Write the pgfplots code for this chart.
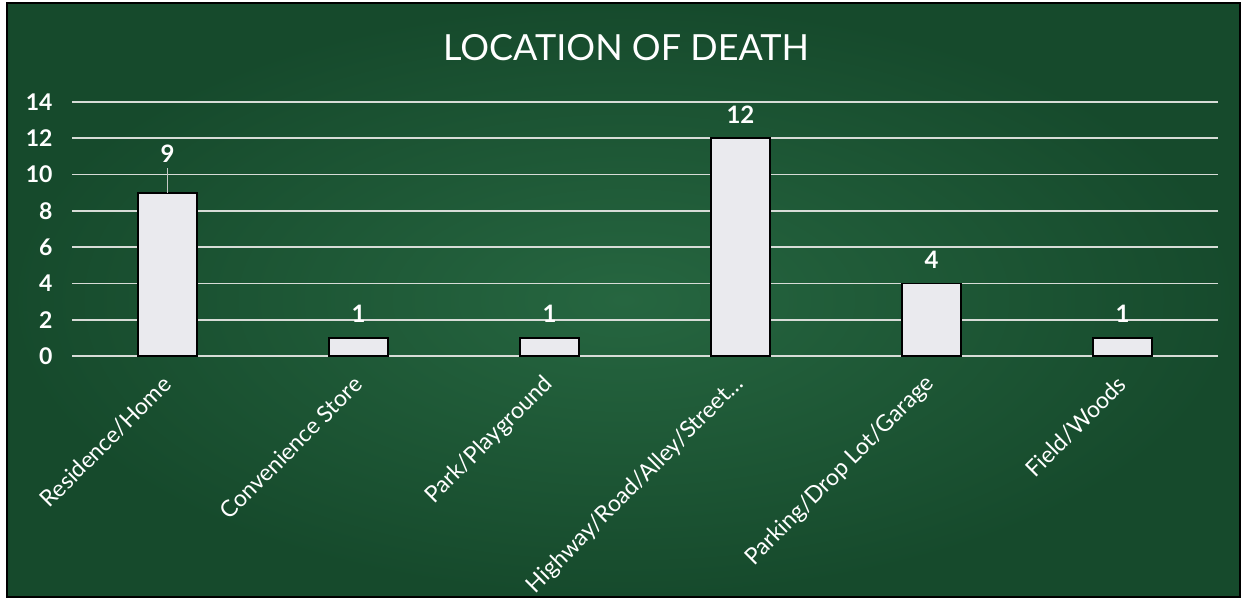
\documentclass[border=0pt]{standalone}
\usepackage{fontspec}
\setmainfont{Lato}
\usepackage{pgfplots}
\usepackage{pgfplotstable}
\pgfplotsset{compat=1.18}
\definecolor{bggreen}{RGB}{38,102,64}
\definecolor{bgdark}{RGB}{22,74,44}
\definecolor{barfill}{RGB}{234,234,238}
\definecolor{gridc}{RGB}{215,220,215}
\pgfplotstableread{
x y off
0 9 26
1 1 11
2 1 11
3 12 11
4 4 11
5 1 11
}\deathdata
\begin{document}
\begin{tikzpicture}
\fill[white] (-72pt,-246pt) rectangle (1175pt,356pt);
\shade[inner color=bggreen, outer color=bgdark] (-65pt,-241pt) rectangle (1168pt,353pt);
\draw[black,line width=1.2pt] (-65pt,-241pt) rectangle (1168pt,353pt);
\node[text=white,font=\fontsize{36}{40}\selectfont] at (554pt,308pt) {LOCATION OF DEATH};
\begin{axis}[
  scale only axis, width=1146pt, height=254pt,
  at={(0pt,0pt)}, anchor=south west,
  xmin=-0.5, xmax=5.5, ymin=0, ymax=14,
  ytick={0,2,...,14},
  xtick={0,...,5},
  xticklabels={Residence/Home,Convenience Store,Park/Playground,Highway/Road/Alley/Street…,Parking/Drop Lot/Garage,Field/Woods},
  axis line style={draw=none},
  major tick length=0pt,
  ymajorgrids, grid style={line width=1.6pt, color=gridc},
  /pgf/number format/assume math mode=true,
  yticklabel style={text=white, font=\bfseries\fontsize{23}{26}\selectfont, xshift=-16pt},
  xticklabel style={text=white, font=\fontsize{23}{26}\selectfont, xshift=2pt, yshift=-22pt, rotate=45, anchor=east},
  clip=false,
]
\addplot[ybar, bar shift=0pt, bar width=59pt, fill=barfill, draw=black, line width=1.6pt,
  point meta=y,
  nodes near coords,
  visualization depends on={\thisrow{off} \as \labeloff},
  every node near coord/.append style={yshift=\labeloff pt, text=white, font=\bfseries\fontsize{24}{26}\selectfont}]
  table[x=x,y=y]{\deathdata};
\addplot[gridc!80!gray, line width=1.2pt] coordinates {(0,9) (0,10.35)};
\end{axis}
\end{tikzpicture}
\end{document}
